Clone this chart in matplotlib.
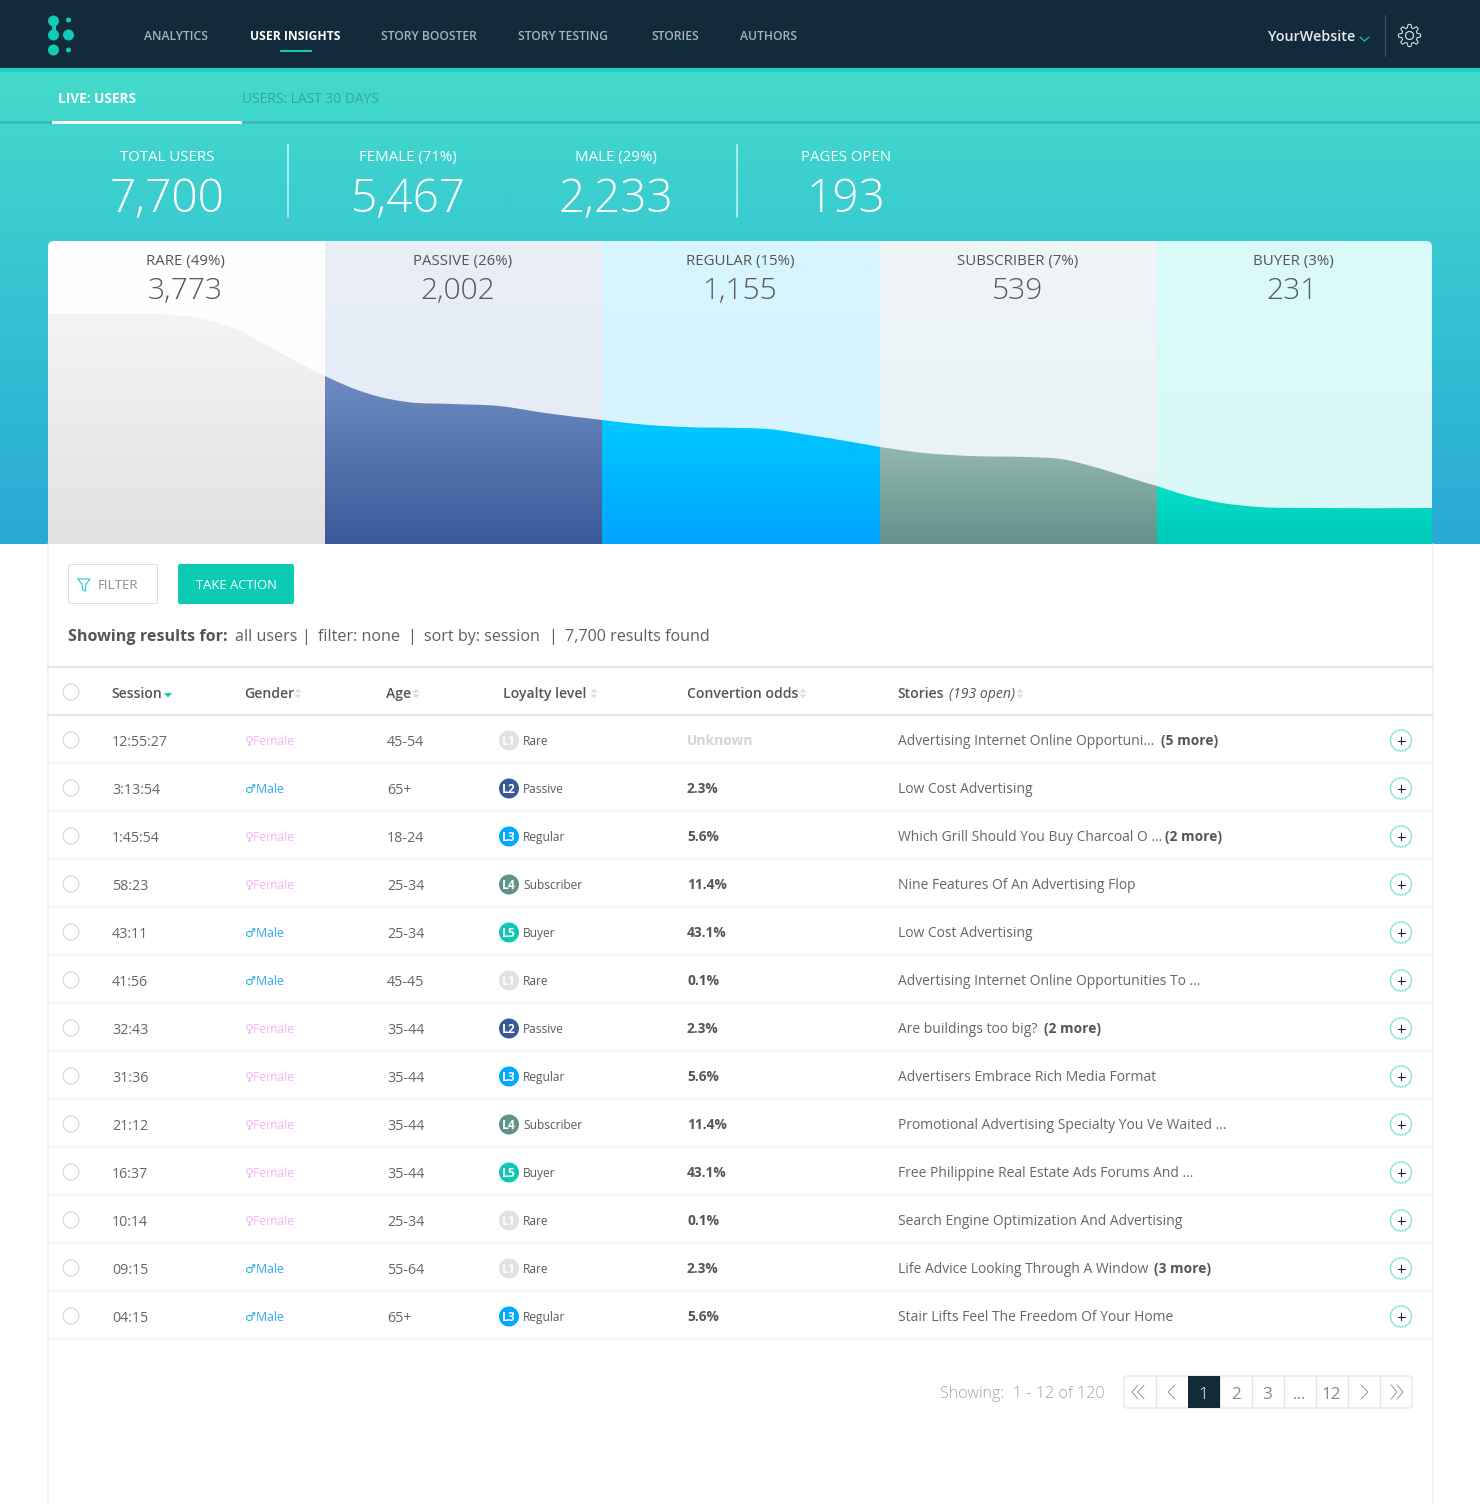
#!/usr/bin/env python3
"""User insights dashboard: funnel panel and the users table."""

import numpy as np
import matplotlib
matplotlib.use('Agg')
import matplotlib.pyplot as plt
from matplotlib.colors import to_rgb
from matplotlib.patches import Circle, FancyBboxPatch, PathPatch, Rectangle
from matplotlib.path import Path

WIDTH, HEIGHT = 1480, 1504
PT = 0.72  # px to pt at dpi 100

DARK = '#112b3a'
TEAL = '#12c9b5'
TEXT = '#5c5c5c'

nav_labels = ['ANALYTICS', 'USER INSIGHTS', 'STORY BOOSTER', 'STORY TESTING', 'STORIES', 'AUTHORS']
nav_x = [144, 250, 381, 518, 651, 740]

stat_labels = ['TOTAL USERS', 'FEMALE (71%)', 'MALE (29%)', 'PAGES OPEN']
stat_values = ['7,700', '5,467', '2,233', '193']
stat_x = [167, 408, 616, 846]

funnel_labels = ['RARE (49%)', 'PASSIVE (26%)', 'REGULAR (15%)', 'SUBSCRIBER (7%)', 'BUYER (3%)']
funnel_values = ['3,773', '2,002', '1,155', '539', '231']
funnel_label_x = [185, 463, 740, 1018, 1293]
funnel_value_x = [185, 458, 740, 1018, 1292]
funnel_edges = [48, 325, 602, 880, 1157, 1432]
upper_top = ['#ffffff', '#e9eef7', '#d6f6fe', '#f0f6f7', '#d9fbf9']
upper_bottom = ['#fbfbfb', '#e4ecf5', '#d6f2ff', '#e8f1f2', '#d9f9f6']
lower_top = ['#f4f4f4', '#6c8cc2', '#00c8ff', '#92b7b1', '#00dfca']
lower_bottom = ['#e1e1e1', '#3b5998', '#00a4ff', '#63928a', '#00c9b8']

curve_x = [48, 86, 155, 192, 233, 270, 297, 325, 352, 380, 407, 453, 499, 545, 602, 637,
           683, 740, 768, 809, 846, 880, 924, 970, 1025, 1061, 1098, 1130, 1157, 1185,
           1222, 1259, 1314, 1432]
curve_y = [314, 314, 314, 317, 328, 347, 362, 376, 388, 397, 402, 404, 406, 413, 420, 424,
           427, 428, 429, 435, 441, 447, 453, 456, 457, 459, 468, 478, 486, 495,
           503, 507, 508, 508]

header_labels = ['Session', 'Gender', 'Age', 'Loyalty level', 'Convertion odds', 'Stories']
header_x = [111, 244, 386, 503, 687, 897]
sort_x = [168, 298, 416, 594, 803, 1020]

sessions = ['12:55:27', '3:13:54', '1:45:54', '58:23', '43:11', '41:56', '32:43', '31:36',
            '21:12', '16:37', '10:14', '09:15', '04:15']
genders = ['Female', 'Male', 'Female', 'Female', 'Male', 'Male', 'Female', 'Female',
           'Female', 'Female', 'Female', 'Male', 'Male']
ages = ['45-54', '65+', '18-24', '25-34', '25-34', '45-45', '35-44', '35-44', '35-44',
        '35-44', '25-34', '55-64', '65+']
levels = [1, 2, 3, 4, 5, 1, 2, 3, 4, 5, 1, 1, 3]
level_names = ['Rare', 'Passive', 'Regular', 'Subscriber', 'Buyer']
level_colors = ['#e2e2e2', '#3b5998', '#00a8ff', '#5f958c', '#0cc8b4']
odds = ['Unknown', '2.3%', '5.6%', '11.4%', '43.1%', '0.1%', '2.3%', '5.6%', '11.4%',
        '43.1%', '0.1%', '2.3%', '5.6%']
stories = ['Advertising Internet Online Opportuni...', 'Low Cost Advertising',
           'Which Grill Should You Buy Charcoal O ...', 'Nine Features Of An Advertising Flop',
           'Low Cost Advertising', 'Advertising Internet Online Opportunities To ...',
           'Are buildings too big?', 'Advertisers Embrace Rich Media Format',
           'Promotional Advertising Specialty You Ve Waited ...',
           'Free Philippine Real Estate Ads Forums And ...',
           'Search Engine Optimization And Advertising',
           'Life Advice Looking Through A Window', 'Stair Lifts Feel The Freedom Of Your Home']
more_labels = {0: ('(5 more)', 1161), 2: ('(2 more)', 1165), 6: ('(2 more)', 1044), 11: ('(3 more)', 1154)}

page_labels = ['', '', '1', '2', '3', '...', '12', '', '']

plt.rcParams['font.family'] = ['Open Sans', 'DejaVu Sans']

fig = plt.figure(figsize=(WIDTH / 100, HEIGHT / 100), dpi=100)
ax = fig.add_axes([0, 0, 1, 1])


def label(x, y, s, size, color=TEXT, weight='normal', ha='left', style='normal', alpha=None):
    # y is the middle of the capitals, so every row lines up whatever the descenders do
    return ax.text(x, y + 0.357 * size, s, fontsize=size * PT, color=color, fontweight=weight,
                   ha=ha, va='baseline', fontstyle=style, alpha=alpha)


def gradient(x0, x1, y0, y1, top, bottom, clip=None, zorder=1):
    ramp = np.linspace(to_rgb(top), to_rgb(bottom), 256).reshape(256, 1, 3)
    im = ax.imshow(ramp, extent=(x0, x1, y1, y0), aspect='auto', zorder=zorder, interpolation='bilinear')
    if clip is not None:
        im.set_clip_path(clip)
    return im


def rounded(x0, y0, x1, y1, radius, **kw):
    patch = FancyBboxPatch((x0 + radius, y0 + radius), x1 - x0 - 2 * radius, y1 - y0 - 2 * radius,
                           boxstyle=f'round,pad={radius}', **kw)
    ax.add_patch(patch)
    return patch


def lines(xs, ys, color, lw=1.0, zorder=5):
    ax.plot(xs, ys, color=color, lw=lw * PT, zorder=zorder, solid_capstyle='round', solid_joinstyle='round')


def sort_arrows(x, y, color='#dddddd'):
    ax.fill([x - 3.5, x + 3.5, x], [y - 1, y - 1, y - 5], color=color, lw=0, zorder=5)
    ax.fill([x - 3.5, x + 3.5, x], [y + 1, y + 1, y + 5], color=color, lw=0, zorder=5)


def curve_patch(xs, ys, bottom):
    # closed shape under one column of the curve, the read points joined by beziers
    slopes = np.gradient(ys, xs)
    verts = [(xs[0], bottom), (xs[0], ys[0])]
    codes = [Path.MOVETO, Path.LINETO]
    for i in range(len(xs) - 1):
        step = (xs[i + 1] - xs[i]) / 3
        verts += [(xs[i] + step, ys[i] + slopes[i] * step),
                  (xs[i + 1] - step, ys[i + 1] - slopes[i + 1] * step),
                  (xs[i + 1], ys[i + 1])]
        codes += [Path.CURVE4] * 3
    verts += [(xs[-1], bottom), (xs[0], bottom)]
    codes += [Path.LINETO, Path.CLOSEPOLY]
    patch = PathPatch(Path(verts, codes), fc='none', lw=0)
    ax.add_patch(patch)
    return patch


def draw_top():
    gradient(0, WIDTH, 72, 240, '#43dbca', '#39cad1')
    gradient(0, WIDTH, 240, 544, '#39cad1', '#29a9d5')
    ax.add_patch(Rectangle((0, 0), WIDTH, 68, fc=DARK, lw=0, zorder=2))
    ax.add_patch(Rectangle((0, 68), WIDTH, 4, fc='#1bd3c0', lw=0, zorder=2))

    # logo
    for cx, cy, r in [(53.5, 21, 5.5), (53.5, 35, 5.5), (53.5, 50, 5.5), (68.5, 35, 5.5),
                      (68.5, 20, 2.5), (68.5, 50, 2.5)]:
        ax.add_patch(Circle((cx, cy), r, fc=TEAL, lw=0, zorder=3))
    ax.add_patch(Rectangle((51.5, 21), 4, 14, fc=TEAL, lw=0, zorder=3))

    for name, x in zip(nav_labels, nav_x):
        active = name == 'USER INSIGHTS'
        label(x, 35.5, name, 12.1, '#ffffff' if active else '#a8b4ba', 'bold' if active else 'semibold')
    ax.add_patch(Rectangle((280, 50), 32, 2, fc=TEAL, lw=0, zorder=3))

    label(1268.5, 36, 'YourWebsite', 14.2, '#e6edf0', 'semibold')
    lines([1360, 1364.5, 1369], [37, 41, 37], TEAL, 1.2)
    lines([1385, 1385], [15, 56], '#3c5461', 1.2)

    # gear outline
    angle = np.linspace(0, 2 * np.pi, 193)
    radius = 9.5 + 1.6 * np.clip(1.8 * np.cos(8 * angle), -1, 1)
    lines(1409.5 + radius * np.cos(angle), 35.5 + radius * np.sin(angle), '#d5dde1', 1.1)
    ax.add_patch(Circle((1409.5, 35.5), 4, fc='none', ec='#d5dde1', lw=1.2 * PT, zorder=5))

    ax.add_patch(Rectangle((0, 121), WIDTH, 3, fc='#3bbcbc', lw=0, zorder=3))
    ax.add_patch(Rectangle((52, 121), 190, 3, fc='#ffffff', lw=0, zorder=4))
    label(58, 98.5, 'LIVE: USERS', 13.6, '#ffffff', 'bold')
    label(242, 98.5, 'USERS: LAST 30 DAYS', 13.7, '#33a3aa')

    for x, name, value in zip(stat_x, stat_labels, stat_values):
        label(x, 155.5, name, 15, '#ffffff', ha='center')
        label(x, 195.5, value, 46, '#ffffff', 'light', ha='center')
    for x in [288, 737]:
        lines([x, x], [145, 217], '#b5eeee', 1.8, zorder=3)
    lines([505, 522], [205, 170], '#4cc4c8', 1.0, zorder=3)


def draw_funnel():
    xs, ys = np.array(curve_x, float), np.array(curve_y, float)
    panel = rounded(48, 241, 1432, 560, 6, fc='none', lw=0, zorder=0)
    for i in range(5):
        x0, x1 = funnel_edges[i], funnel_edges[i + 1]
        mask = (xs >= x0) & (xs <= x1)
        im = gradient(x0, x1, 241, 544, upper_top[i], upper_bottom[i], zorder=2)
        im.set_clip_path(panel)
        lower = curve_patch(xs[mask], ys[mask], 544)
        gradient(x0, x1, ys[mask].min(), 544, lower_top[i], lower_bottom[i], clip=lower, zorder=3)
        label(funnel_label_x[i], 259.5, funnel_labels[i], 15, '#555555', ha='center').set_zorder(6)
        label(funnel_value_x[i], 288, funnel_values[i], 30, '#5a5a5a', 'light', ha='center').set_zorder(6)


def draw_controls():
    ax.add_patch(Rectangle((48, 544), 1384, 960, fc='#ffffff', lw=0, zorder=1))
    for x in [47.5, 1432.5]:
        lines([x, x], [544, HEIGHT], '#f0f0f0', 1.6, zorder=1)

    rounded(68.5, 564.5, 157.5, 603.5, 2, fc='#ffffff', ec='#dddddd', lw=1 * PT, zorder=2)
    lines([78, 90, 85.5, 85.5, 82.5, 82.5, 78], [579, 579, 585, 591, 590, 585, 579], '#2fd0cc', 1.2)
    label(98, 584.5, 'FILTER', 13.4, '#8e8e8e')
    rounded(178, 564, 294, 604, 2, fc='#0ccbb4', lw=0, zorder=2)
    label(236, 584.5, 'TAKE ACTION', 13, '#ffffff', ha='center').set_zorder(5)

    label(68, 635.5, 'Showing results for:', 16.1, '#555555', 'bold')
    for x, part in [(235, 'all users'), (301, '|'), (318, 'filter: none'), (407.5, '|'),
                    (424, 'sort by: session'), (548.5, '|'), (565, '7,700 results found')]:
        label(x, 635.5, part, 16.1, '#5f5f5f')


def draw_table():
    lines([48, 1432], [667, 667], '#e6e6e6', 2, zorder=2)
    lines([48, 1432], [715, 715], '#e6e6e6', 2, zorder=2)
    ax.add_patch(Circle((71, 692), 8, fc='#ffffff', ec='#cfcfcf', lw=1 * PT, zorder=3))

    for name, x, sx in zip(header_labels, header_x, sort_x):
        label(x, 693.5, name, 14, '#555555', 'semibold')
        if name == 'Session':
            ax.fill([sx - 4, sx + 4, sx], [693, 693, 697.5], color=TEAL, lw=0, zorder=5)
        else:
            sort_arrows(sx, 693.5)
    label(949, 693.5, '(193 open)', 14, '#555555', style='italic')

    for i in range(len(sessions)):
        y = 740.5 + 48 * i
        lines([48, 1432], [y + 22, y + 22], '#f5f5f5', 1.6, zorder=2)
        ax.add_patch(Circle((71, y - 0.5), 8, fc='#ffffff', ec='#cfcfcf', lw=1 * PT, zorder=3))
        label(112, y, sessions[i], 14.2, '#666666')

        if genders[i] == 'Female':
            label(244.5, y, '\u2640Female', 12.2, '#f5b5f2')
        else:
            label(244.5, y, '\u2642Male', 12.2, '#2ea7e8')
        label(387, y, ages[i], 14.2, '#666666')

        level = levels[i] - 1
        ax.add_patch(Circle((509, y), 10, fc=level_colors[level], lw=0, zorder=3))
        label(509, y, f'L{levels[i]}', 12, '#ffffff', 'bold', ha='center').set_zorder(5)
        label(523, y, level_names[level], 12, '#5c5c5c')

        unknown = odds[i] == 'Unknown'
        label(687, y, odds[i], 13.7, '#d4d4d4' if unknown else '#555555', 'bold')

        label(898, y, stories[i], 13.9, '#666666')
        if i in more_labels:
            text, x = more_labels[i]
            label(x, y, text, 13.7, '#555555', 'bold')

        ax.add_patch(Circle((1401, y), 10.5, fc='#ffffff', ec='#7fe6d6', lw=1.3 * PT, zorder=3))
        lines([1397.5, 1404.5], [y, y], DARK, 1.1)
        lines([1401, 1401], [y - 3.5, y + 3.5], DARK, 1.1)


def draw_pagination():
    label(1105, 1392.5, 'Showing:  1 - 12 of 120', 16.1, '#a3a3a3', 'light', ha='right')
    rounded(1124, 1376, 1412, 1408, 3, fc='#ffffff', ec='#e6e6e6', lw=1.3 * PT, zorder=2)
    for i, text in enumerate(page_labels):
        x0 = 1124 + 32 * i
        if i:
            lines([x0, x0], [1376, 1408], '#e6e6e6', 1.3, zorder=3)
        if text == '1':
            ax.add_patch(Rectangle((x0, 1376), 32, 32, fc=DARK, lw=0, zorder=4))
        label(x0 + 15.5, 1392.5, text, 17, '#ffffff' if text == '1' else '#8a8a8a',
              'light' if text == '1' else 'normal', ha='center').set_zorder(6)

    grey = '#999999'
    for x in [1138, 1144]:
        lines([x, x - 6, x], [1385, 1392, 1399], grey, 1)
    lines([1175, 1168, 1175], [1385, 1392, 1399], grey, 1)
    lines([1361, 1368, 1361], [1385, 1392, 1399], grey, 1)
    for x in [1391, 1397]:
        lines([x, x + 6, x], [1385, 1392, 1399], grey, 1)


draw_top()
draw_funnel()
draw_controls()
draw_table()
draw_pagination()

ax.set_xlim(0, WIDTH)
ax.set_ylim(HEIGHT, 0)
ax.axis('off')
fig.savefig('out.png', dpi=100, facecolor='#ffffff')
